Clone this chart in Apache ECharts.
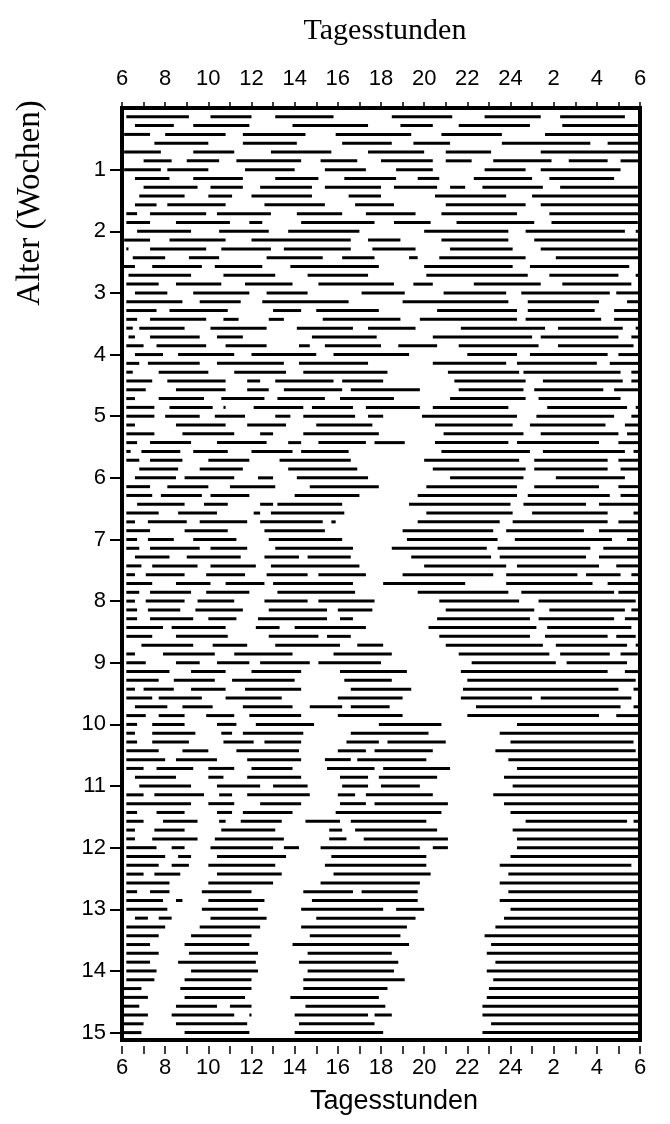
<!DOCTYPE html>
<html>
<head>
<meta charset="utf-8">
<title>Tagesstunden</title>
<script src="https://cdn.jsdelivr.net/npm/echarts@6/dist/echarts.min.js"></script>
<style>
  html, body { margin: 0; padding: 0; background: #fff; }
  #container { width: 670px; height: 1124px; }
</style>
</head>
<body>
<div id="container"></div>
<script>
// hour labels on the x axis, one every 2 hours starting at 6 o'clock
var hourLabels = ['6', '8', '10', '12', '14', '16', '18', '20', '22', '24', '2', '4', '6'];
var weekLabels = ['1', '2', '3', '4', '5', '6', '7', '8', '9', '10', '11', '12', '13', '14', '15'];
var weekTicks = [1, 2, 3, 4, 5, 6, 7, 8, 9, 10, 11, 12, 13, 14, 15];

// sleep segments per day: [start, end, start, end, ...] in hours after 6 o'clock
var w01 = [
  [0.2,3.1, 4.1,6.0, 7.1,9.8, 12.5,15.3, 16.8,19.4, 20.3,23.3],
  [0.6,2.4, 3.3,5.9, 7.9,11.4, 12.9,14.4, 15.6,18.9, 20.4,23.9],
  [0.1,1.3, 2.0,4.8, 5.6,8.5, 9.9,13.4, 14.8,17.6, 19.6,24],
  [1.5,4.0, 5.6,8.1, 10.2,12.5, 13.5,15.2, 17.6,21.7, 22.5,24],
  [0.1,1.8, 3.3,5.2, 6.9,9.7, 11.4,14.0, 15.0,17.1, 19.4,24],
  [1.0,2.3, 3.0,4.5, 5.3,8.3, 9.2,10.9, 12.0,14.4, 15.0,16.2, 17.2,19.9, 20.7,22.5, 23.1,24],
  [0.1,1.8, 2.1,4.0, 5.7,8.0, 9.4,11.3, 12.7,14.4, 16.8,18.7, 19.4,23.1]
];
var w02 = [
  [0.6,2.2, 3.3,5.6, 7.1,9.1, 10.3,12.7, 13.7,14.7, 16.3,19.0, 19.8,22.8],
  [1.0,3.5, 4.1,5.6, 6.4,8.8, 9.4,12.0, 12.6,14.6, 15.2,15.9, 16.7,19.5, 20.3,23.9],
  [0.8,2.9, 4.0,5.1, 6.0,8.8, 10.5,12.0, 14.5,17.8, 19.0,24],
  [0.6,1.6, 2.1,4.8, 6.6,9.4, 10.8,12.6, 15.0,18.7, 19.4,24],
  [0.2,0.7, 1.3,3.9, 4.4,6.9, 8.1,10.2, 11.3,13.6, 14.8,18.3, 19.8,24],
  [0.2,1.3, 2.5,5.0, 5.9,6.5, 8.3,11.7, 12.6,14.3, 15.5,19.1, 19.9,23.9],
  [0.7,3.2, 4.5,6.8, 7.7,11.0, 14.0,17.9, 18.7,23.3, 23.8,24]
];
var w03 = [
  [0.1,1.3, 2.2,4.8, 6.0,10.6, 11.4,12.9, 14.8,17.9, 19.1,23.9],
  [0.2,0.3, 1.3,3.9, 4.6,6.9, 7.5,10.6, 11.6,13.6, 15.2,18.1, 19.4,23.9],
  [0.5,2.0, 3.1,4.5, 6.7,9.3, 10.2,11.7, 13.3,13.7, 14.7,18.7, 20.1,24],
  [0,0.6, 1.4,3.7, 4.3,6.5, 7.8,11.9, 14.0,18.1, 18.9,23.5],
  [0.3,3.2, 4.7,7.1, 8.6,11.4, 14.1,18.8, 19.8,23.0, 23.8,24],
  [0.2,1.7, 2.5,4.6, 5.7,7.9, 9.1,12.6, 13.5,14.4, 16.3,19.4, 20.4,23.6],
  [0.6,2.1, 3.3,5.9, 6.7,8.6, 11.1,13.1, 14.9,17.8, 18.5,22.6, 22.9,24]
];
var w04 = [
  [0.2,2.8, 3.6,5.5, 6.5,10.5, 13.0,17.9, 18.8,22.1, 23.4,24],
  [0.2,1.6, 2.2,4.9, 7.0,8.3, 9.0,11.9, 14.6,18.3, 18.8,21.9, 22.8,24],
  [0.2,0.7, 1.3,3.9, 4.7,5.4, 6.8,7.5, 9.3,12.9, 13.8,18.3, 18.7,22.2, 22.8,24],
  [0.2,0.5, 0.8,2.9, 4.1,6.7, 8.1,10.7, 11.4,13.6, 15.7,19.6, 20.2,23.2, 23.8,24],
  [0.3,0.6, 1.3,3.6, 4.4,5.6, 8.8,11.8, 14.4,19.0, 19.4,23.0, 23.6,24],
  [0.2,1.0, 1.6,3.9, 4.8,6.7, 8.2,8.7, 9.4,12.0, 12.8,14.6, 15.6,19.3, 20.2,23.7],
  [0.6,1.9, 2.6,5.2, 6.0,9.0, 9.8,13.3, 16.0,18.3, 18.9,22.5, 23.0,24]
];
var w05 = [
  [0.2,0.8, 1.2,3.6, 4.4,7.5, 8.2,11.4, 14.4,17.8, 18.3,22.0, 22.6,24],
  [0.2,0.5, 1.7,4.0, 5.2,7.6, 8.4,12.3, 15.1,18.4, 18.6,23.1, 23.6,24],
  [0.2,1.4, 2.1,4.8, 5.8,6.4, 7.1,9.8, 10.2,12.1, 15.4,18.7, 19.5,23.2, 23.6,24],
  [0.2,1.1, 2.5,4.8, 5.8,6.8, 7.5,10.2, 10.6,13.8, 15.6,18.6, 19.1,22.3, 22.8,24],
  [0.2,0.6, 1.7,3.8, 4.6,6.6, 7.2,9.4, 10.1,12.6, 15.2,18.7, 19.3,23.1],
  [0.2,1.5, 2.2,4.2, 4.7,4.8, 6.1,8.4, 8.8,10.7, 11.3,13.8, 14.4,17.9, 19.7,23.4, 23.8,24],
  [0.2,1.5, 2.0,3.6, 4.3,5.7, 7.1,7.8, 8.4,10.8, 11.4,12.1, 13.9,18.3, 19.2,22.8, 23.6,24]
];
var w06 = [
  [0.2,0.6, 2.5,4.8, 5.8,7.6, 9.0,11.6, 14.5,18.1, 18.9,22.4, 23.3,24],
  [0.2,1.5, 2.8,5.2, 6.4,7.0, 8.4,11.9, 14.9,18.6, 19.4,23.0, 23.4,24],
  [0.2,0.7, 1.3,3.2, 4.4,6.7, 7.7,8.3, 9.1,11.3, 11.7,13.1, 14.5,17.9, 18.3,22.1, 23.0,24],
  [0.2,0.4, 0.9,2.7, 3.3,4.9, 6.0,7.9, 8.3,10.5, 14.8,18.9, 19.5,23.3, 23.7,24],
  [0.2,0.8, 1.3,2.8, 4.0,5.9, 7.3,10.6, 14.0,18.4, 19.1,22.5, 23.0,24],
  [0.8,2.6, 3.6,5.6, 7.7,10.9, 14.4,18.7, 19.1,22.5, 23.1,24],
  [0.6,2.5, 2.9,5.2, 6.3,7.0, 8.1,11.4, 15.2,18.6, 20.1,23.3]
];
var w07 = [
  [0.2,1.3, 2.1,4.0, 5.0,7.1, 8.7,11.9, 14.1,18.3, 19.1,22.1, 23.0,24],
  [0.2,1.4, 1.8,3.7, 4.1,5.9, 8.0,11.0, 13.7,18.3, 18.8,22.6, 23.1,24],
  [0.7,2.9, 3.8,4.9, 6.4,7.0, 7.2,10.2, 13.3,18.0, 18.6,21.5, 22.1,24],
  [0.2,1.7, 2.6,4.4, 6.1,6.4, 6.9,10.3, 14.1,18.1, 19.0,22.5, 23.7,24],
  [0.2,0.6, 1.2,3.0, 3.6,5.8, 6.4,9.3, 9.7,9.9, 13.7,17.5, 18.1,22.5, 23.0,24],
  [0.2,1.3, 2.9,4.9, 6.6,9.4, 13.0,17.2, 17.8,21.4, 22.1,24],
  [0.2,0.7, 1.2,2.4, 3.3,5.3, 6.8,10.2, 13.2,17.4, 18.2,22.7, 23.4,24]
];
var w08 = [
  [0.2,0.8, 1.3,3.6, 4.1,5.8, 7.1,10.7, 12.5,16.9, 17.4,21.7, 22.3,24],
  [0.6,2.2, 3.0,5.5, 6.6,8.2, 8.6,10.6, 13.4,17.1, 17.5,21.5, 22.1,24],
  [0.2,0.9, 1.4,3.5, 4.1,6.2, 6.9,11.0, 14.0,17.8, 18.3,22.1, 22.9,24],
  [0.2,0.6, 1.1,2.9, 3.9,5.7, 6.7,8.6, 9.1,11.3, 13.0,17.2, 17.8,21.1, 21.5,23.1, 23.6,24],
  [0.2,1.4, 2.5,4.1, 4.8,6.6, 7.0,10.7, 12.1,15.9, 17.8,21.8, 22.5,24],
  [0.2,0.8, 1.3,3.2, 3.9,5.9, 7.2,10.8, 13.7,17.9, 18.5,22.8, 23.0,24],
  [0.2,0.6, 1.1,2.9, 3.5,5.2, 6.6,8.6, 9.1,11.7, 14.7,18.4, 19.3,23.8]
];
var w09 = [
  [0.2,0.7, 1.2,2.7, 3.4,5.6, 6.8,9.5, 10.0,11.6, 15.0,19.1, 19.8,23.3, 23.6,24],
  [0.2,0.7, 1.3,3.3, 4.0,5.3, 6.3,9.5, 10.1,10.7, 14.6,18.9, 19.3,22.8, 23.3,24],
  [0.2,1.9, 2.3,4.8, 6.2,7.3, 8.0,11.3, 14.2,19.2, 19.7,23.6],
  [0.2,1.4, 2.5,4.9, 6.8,9.1, 9.5,10.6, 14.7,18.9, 19.6,22.5, 22.9,23.8],
  [0.9,3.3, 4.2,5.8, 7.1,10.1, 10.9,12.1, 15.0,19.5, 20.1,23.4, 23.8,24],
  [0.2,0.6, 1.9,4.3, 5.2,7.9, 9.8,12.5, 15.6,19.8, 20.3,22.6, 23.1,23.9],
  [0.2,1.1, 2.5,3.6, 4.4,5.9, 6.4,8.7, 9.1,12.0, 16.2,20.1, 20.6,23.4]
];
var w10 = [
  [0.2,2.2, 3.2,4.8, 6.0,8.3, 10.1,13.2, 15.7,22.5, 23.3,24],
  [0.2,1.7, 2.4,4.3, 5.1,8.0, 10.3,12.5, 16.0,23.8],
  [0.2,0.6, 1.0,2.4, 3.2,4.8, 5.7,8.3, 10.6,13.4, 15.8,23.0, 23.7,24],
  [0.2,1.4, 1.7,3.7, 4.8,7.4, 10.0,13.0, 15.7,19.0, 19.4,23.6],
  [0.6,2.1, 2.8,4.2, 5.6,7.9, 8.7,10.2, 10.6,12.4, 16.4,23.1, 23.7,24],
  [0.2,1.1, 1.7,2.9, 3.9,5.2, 5.9,8.3, 10.0,13.0, 16.0,22.1, 22.9,24],
  [0.2,0.7, 1.4,2.9, 4.4,5.3, 6.2,8.9, 11.9,14.8, 18.3,24]
];
var w11 = [
  [0.2,0.6, 1.4,3.4, 4.6,5.1, 5.6,8.4, 10.6,14.2, 17.5,24],
  [0.2,0.7, 1.4,3.1, 4.7,6.1, 6.6,8.3, 10.4,11.9, 12.3,15.0, 18.0,23.7],
  [0.2,1.7, 2.8,4.0, 5.3,8.2, 10.0,11.3, 11.7,14.4, 17.3,23.8],
  [0.2,2.0, 2.5,4.4, 5.8,8.3, 9.4,10.6, 10.9,14.1, 17.9,24],
  [0.2,1.0, 1.6,3.3, 4.0,5.2, 6.0,7.9, 9.5,11.7, 12.1,15.2, 18.3,24],
  [0.6,2.5, 4.0,4.7, 5.8,8.3, 10.1,11.4, 11.9,14.6, 17.7,23.9],
  [0.8,3.2, 4.4,6.4, 7.0,8.6, 10.2,11.4, 12.0,13.8, 18.1,24]
];
var w12 = [
  [0.2,1.0, 1.5,3.8, 4.5,5.1, 5.8,8.7, 10.0,10.8, 11.3,14.4, 17.2,24],
  [0.2,3.2, 4.0,5.2, 6.4,8.3, 10.1,11.3, 11.7,15.1, 17.7,24],
  [0.2,0.7, 1.6,2.9, 4.4,5.1, 5.6,7.9, 9.9,14.8, 18.0,24],
  [0.2,1.0, 1.9,3.5, 4.5,4.8, 5.5,7.4, 8.5,10.1, 10.6,14.1, 18.7,23.4, 23.7,24],
  [0.2,0.6, 1.5,2.9, 4.6,7.1, 9.6,10.2, 10.8,14.6, 18.1,24],
  [0.2,0.6, 1.4,3.5, 4.3,7.5, 9.6,10.4, 11.2,15.1, 18.3,24],
  [0.2,1.6, 2.3,2.9, 4.1,7.0, 7.5,8.2, 9.2,13.8, 14.4,15.1, 18.3,24]
];
var w13 = [
  [0.2,2.0, 2.6,3.2, 4.4,7.6, 9.7,14.1, 18.0,24],
  [0.2,1.7, 2.3,3.1, 4.0,7.1, 9.4,14.1, 17.5,23.6],
  [0.2,1.0, 1.5,2.7, 4.4,7.4, 9.8,14.3, 17.9,24],
  [0.2,2.2, 4.0,7.0, 9.2,13.8, 17.5,24],
  [0.2,0.7, 1.3,2.2, 3.7,6.0, 8.4,10.7, 11.1,13.7, 17.9,24],
  [0.2,1.9, 2.5,2.8, 4.0,6.6, 8.8,13.7, 17.5,24],
  [0.2,2.1, 3.7,6.3, 8.3,12.1, 12.7,14.0, 18.0,24]
];
var w14 = [
  [0.6,1.2, 1.7,2.3, 4.1,6.7, 9.0,13.6, 17.7,24],
  [0.2,2.0, 3.6,6.4, 8.3,13.2, 17.3,24],
  [0.2,1.7, 3.2,6.0, 8.7,12.9, 16.8,24],
  [0.2,1.3, 2.9,5.9, 7.9,13.3, 17.1,24],
  [0.2,1.7, 3.1,6.3, 8.6,12.5, 16.9,24],
  [0.2,1.3, 2.6,6.2, 8.2,12.8, 17.3,24],
  [0.2,1.6, 3.2,6.3, 8.6,12.6, 16.9,24]
];
var w15 = [
  [0.2,1.5, 2.9,6.0, 8.4,13.1, 17.2,24],
  [0,0.9, 2.7,6.0, 8.4,12.3, 17.0,24],
  [0,1.2, 2.9,5.7, 7.8,11.9, 16.9,24],
  [0,0.8, 2.5,4.4, 5.0,6.0, 8.5,12.2, 16.7,24],
  [0,1.2, 2.3,5.2, 5.9,6.0, 8.0,11.4, 11.7,12.5, 16.7,24],
  [0,1.0, 2.5,5.8, 8.2,11.7, 17.1,24],
  [0,0.9, 2.9,5.9, 8.0,12.1, 16.7,24]
];

var weeks = [w01, w02, w03, w04, w05, w06, w07, w08, w09, w10, w11, w12, w13, w14, w15];

// flatten into [start, end, ageInWeeks]
var segs = [];
var day = 0;
weeks.forEach(function (wk) {
  wk.forEach(function (row) {
    day++;
    for (var i = 0; i < row.length; i += 2) {
      segs.push([row[i], row[i + 1], day / 7]);
    }
  });
});

var dom = document.getElementById('container');
var myChart = echarts.init(dom, null, { renderer: 'canvas' });

var labelFont = '"Liberation Sans", Arial, sans-serif';
var serifFont = '"Liberation Serif", "Times New Roman", serif';

var option = {
  animation: false,
  backgroundColor: '#fff',
  grid: {
    left: 122, right: 30, top: 108, bottom: 84,
    show: true, borderColor: '#000', borderWidth: 4
  },
  graphic: [{
    type: 'text',
    x: 30, y: 203,
    rotation: Math.PI / 2,
    style: {
      text: 'Alter (Wochen)', font: '33px ' + serifFont, fill: '#000',
      align: 'center', verticalAlign: 'middle'
    }
  }],
  xAxis: [{
    type: 'value', position: 'top', min: 0, max: 24, interval: 2,
    offset: 7,
    name: 'Tagesstunden', nameLocation: 'middle', nameGap: 55,
    nameTextStyle: { fontFamily: serifFont, fontSize: 30, color: '#000', padding: [0, 0, 0, 8] },
    axisLine: { show: true, lineStyle: { color: '#000', width: 1.5 } },
    axisTick: { show: true, length: 6, lineStyle: { color: '#000', width: 1.5 } },
    minorTick: { show: true, splitNumber: 2, length: 6, lineStyle: { color: '#000', width: 1.5 } },
    splitLine: { show: false },
    axisLabel: {
      fontFamily: labelFont, fontSize: 22, color: '#000', margin: 11,
      formatter: function (v) { return hourLabels[v / 2]; }
    }
  }, {
    type: 'value', position: 'bottom', min: 0, max: 24, interval: 2,
    offset: 6,
    name: 'Tagesstunden', nameLocation: 'middle', nameGap: 42,
    nameTextStyle: { fontFamily: labelFont, fontSize: 27, color: '#000', padding: [0, 0, 0, 26] },
    axisLine: { show: false },
    axisTick: { show: true, length: 8, lineStyle: { color: '#000', width: 1.5 } },
    minorTick: { show: true, splitNumber: 2, length: 8, lineStyle: { color: '#000', width: 1.5 } },
    splitLine: { show: false },
    axisLabel: {
      fontFamily: labelFont, fontSize: 22, color: '#000', margin: 11,
      formatter: function (v) { return hourLabels[v / 2]; }
    }
  }],
  yAxis: {
    type: 'value', inverse: true, min: 0, max: 15.12, interval: 1,
    axisLine: { show: false },
    axisTick: { show: true, length: 12, customValues: weekTicks, lineStyle: { color: '#000', width: 2 } },
    splitLine: { show: false },
    axisLabel: {
      fontFamily: labelFont, fontSize: 22, color: '#000', margin: 16,
      customValues: weekTicks,
      formatter: function (v) { return weekLabels[v - 1]; }
    }
  },
  series: [{
    type: 'custom',
    xAxisIndex: 0,
    encode: { x: [0, 1], y: 2 },
    data: segs,
    renderItem: function (params, api) {
      var p1 = api.coord([api.value(0), api.value(2)]);
      var p2 = api.coord([api.value(1), api.value(2)]);
      return {
        type: 'line',
        shape: { x1: p1[0], y1: p1[1], x2: p2[0], y2: p2[1] },
        style: { stroke: '#000', lineWidth: 3 }
      };
    }
  }]
};

myChart.setOption(option);
window.addEventListener('resize', myChart.resize);
</script>
</body>
</html>
